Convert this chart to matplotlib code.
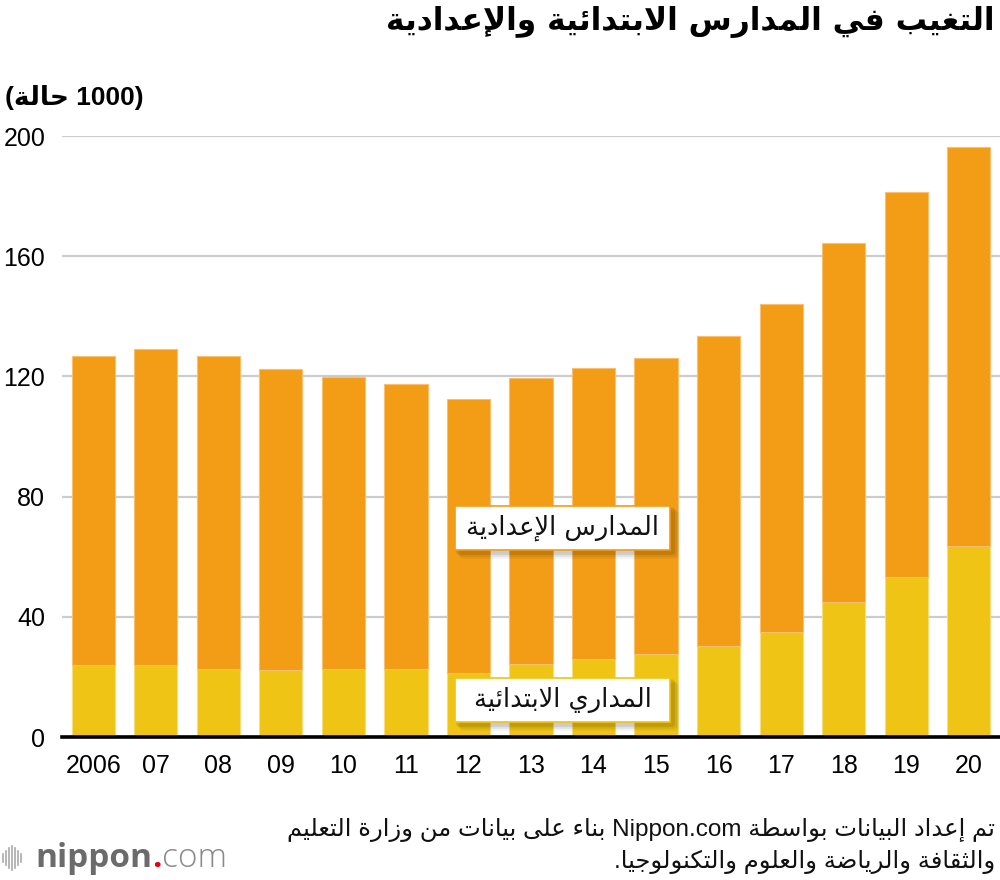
import matplotlib
matplotlib.use("Agg")
import matplotlib.pyplot as plt
from matplotlib.patches import FancyBboxPatch
import numpy as np

# data (1000 cases)
years = ["2006", "07", "08", "09", "10", "11", "12", "13", "14", "15", "16", "17", "18", "19", "20"]
elementary = [23.8, 23.9, 22.7, 22.3, 22.5, 22.6, 21.2, 24.2, 25.9, 27.6, 30.4, 35.0, 44.8, 53.4, 63.4]
junior_high = [103.1, 105.3, 104.2, 100.1, 97.4, 94.8, 91.4, 95.4, 97.0, 98.4, 103.2, 109.0, 119.7, 127.9, 132.8]
yticks = [0, 40, 80, 120, 160, 200]

title = "التغيب في المدارس الابتدائية والإعدادية"
unit_label = "(1000 حالة)"
label_junior = "المدارس الإعدادية"
label_elem = "المداري الابتدائية"
source_1 = "تم إعداد البيانات بواسطة Nippon.com بناء على بيانات من وزارة التعليم"
source_2 = "والثقافة والرياضة والعلوم والتكنولوجيا."

ORANGE = "#F39C15"
YELLOW = "#F0C414"

# --- minimal arabic shaping (presentation forms) + rtl reordering ---
_counts = [1, 2, 2, 2, 2, 4, 2, 4, 2, 4, 4, 4, 4, 4, 2, 2, 2, 2, 4, 4, 4, 4, 4, 4, 4, 4,
           4, 4, 4, 4, 4, 4, 4, 2, 2, 4]
_letters = [chr(c) for c in range(0x0621, 0x063B)] + [chr(c) for c in range(0x0641, 0x064B)]
FORMS = {}
_start = 0xFE80
for ch, n in zip(_letters, _counts):
    FORMS[ch] = tuple(range(_start, _start + n))
    _start += n
LAMALEF = {"\u0622": 0xFEF5, "\u0623": 0xFEF7, "\u0625": 0xFEF9, "\u0627": 0xFEFB}


def _jtype(u):
    kind, c = u
    if kind == "LA":
        return "R"
    if c in FORMS:
        n = len(FORMS[c])
        return "D" if n == 4 else ("R" if n == 2 else "U")
    return None


def shape(text):
    units = []
    i = 0
    while i < len(text):
        c = text[i]
        if c == "\u0644" and i + 1 < len(text) and text[i + 1] in LAMALEF:
            units.append(("LA", text[i + 1]))
            i += 2
        else:
            units.append(("C", c))
            i += 1
    out = []
    for k, u in enumerate(units):
        jt = _jtype(u)
        if jt is None:
            out.append(u[1])
            continue
        prev = _jtype(units[k - 1]) if k > 0 else None
        nxt = _jtype(units[k + 1]) if k + 1 < len(units) else None
        jp = jt in ("D", "R") and prev == "D"
        jn = jt == "D" and nxt in ("D", "R")
        if u[0] == "LA":
            out.append(chr(LAMALEF[u[1]] + (1 if jp else 0)))
            continue
        f = FORMS[u[1]]
        if jp and jn:
            out.append(chr(f[3]))
        elif jp:
            out.append(chr(f[1]))
        elif jn:
            out.append(chr(f[2]))
        else:
            out.append(chr(f[0]))
    return "".join(out)


def rtl(text):
    s = shape(text)
    runs = []
    for i, c in enumerate(s):
        ltr = c.isascii() and c.isalnum()
        if c == "." and 0 < i < len(s) - 1 and s[i - 1].isascii() and s[i - 1].isalnum() \
                and s[i + 1].isascii() and s[i + 1].isalnum():
            ltr = True
        if runs and runs[-1][0] == ltr:
            runs[-1][1] += c
        else:
            runs.append([ltr, c])
    mirror = str.maketrans("()", ")(")
    return "".join(r if ltr else r[::-1].translate(mirror) for ltr, r in reversed(runs))


FONTS = ["Liberation Sans", "DejaVu Sans"]
AR = ["DejaVu Sans"]
plt.rcParams["font.family"] = FONTS

W, H = 1000, 880
fig = plt.figure(figsize=(W / 100, H / 100), dpi=100)
ax = fig.add_axes([62 / W, 1 - 737 / H, 1 - 62 / W, (737 - 136) / H])

x = np.arange(len(years))
ax.bar(x, elementary, width=0.69, color=YELLOW, edgecolor="#f7dd80", linewidth=0.8, zorder=3)
ax.bar(x, junior_high, bottom=elementary, width=0.69, color=ORANGE, edgecolor="#f8c070",
       linewidth=0.8, zorder=3)

ax.set_xlim(-0.5, len(years) - 0.5)
ax.set_ylim(0, 200)
ax.set_yticks(yticks)
ax.set_xticks(x)
ax.set_xticklabels(years)
ax.yaxis.grid(True, color="#cccccc", linewidth=1.6, zorder=0)
ax.set_axisbelow(True)
for sp in ["top", "left", "right"]:
    ax.spines[sp].set_visible(False)
ax.spines["bottom"].set_linewidth(2.6)
ax.spines["bottom"].set_color("black")
ax.spines["bottom"].set_zorder(5)
ax.tick_params(axis="both", length=0, labelsize=18)
ax.tick_params(axis="y", pad=12)
ax.tick_params(axis="x", pad=12)

# titles
fig.text(995 / W, 1 - 22 / H, rtl(title), ha="right", va="center", fontsize=22.5,
         fontweight="bold", family=AR)
fig.text(5 / W, 1 - 98 / H, rtl(unit_label), ha="left", va="center", fontsize=19,
         fontweight="bold", family=FONTS)

# in-chart labels
for txt, yc, ec in [(label_junior, 528, ORANGE), (label_elem, 700, YELLOW)]:
    bx0, bx1 = 455, 670
    bh = 44
    # soft shadow: a few stacked translucent rectangles
    for off, a in [(7, 0.05), (5, 0.07), (3, 0.09)]:
        sh = FancyBboxPatch(((bx0 + off) / W, 1 - (yc + bh / 2 + off) / H), (bx1 - bx0) / W,
                            bh / H, boxstyle="round,pad=0.002,rounding_size=0.004",
                            transform=fig.transFigure, facecolor="black", edgecolor="none",
                            alpha=a, zorder=9)
        fig.add_artist(sh)
    box = FancyBboxPatch((bx0 / W, 1 - (yc + bh / 2) / H), (bx1 - bx0) / W, bh / H,
                         boxstyle="square,pad=0", transform=fig.transFigure,
                         facecolor="white", edgecolor=ec, linewidth=1.2, zorder=10)
    fig.add_artist(box)
    fig.text((bx0 + bx1) / 2 / W, 1 - yc / H, rtl(txt), ha="center", va="center",
             fontsize=18.5, family=AR, zorder=11, color="#111111")

# source
fig.text(995 / W, 1 - 830 / H, rtl(source_1), ha="right", va="center", fontsize=17.5,
         family=FONTS, color="#111111")
fig.text(995 / W, 1 - 862 / H, rtl(source_2), ha="right", va="center", fontsize=17.5,
         family=FONTS, color="#111111")

# logo
bar_h = [8, 14, 20, 24, 20, 14, 8]
for i, h in enumerate(bar_h):
    xx = (3 + i * 3) / W
    fig.add_artist(plt.Line2D([xx, xx], [1 - (858 - h / 2) / H, 1 - (858 + h / 2) / H],
                              transform=fig.transFigure, color="#aaaaaa", linewidth=1.2))
renderer = fig.canvas.get_renderer()
t1 = fig.text(35 / W, 1 - 858 / H, "nippon", ha="left", va="center", fontsize=24,
              fontweight="bold", color="#6b6b6b", family=["Open Sans", "DejaVu Sans"])
bb = t1.get_window_extent(renderer)
t2 = fig.text(bb.x1 / W, 1 - 858 / H, ".", ha="left", va="center", fontsize=24,
              fontweight="bold", color="#e60012", family=["Open Sans", "DejaVu Sans"])
bb2 = t2.get_window_extent(renderer)
fig.text(bb2.x1 / W, 1 - 858 / H, "com", ha="left", va="center", fontsize=24,
         fontweight="light", color="#8a8a8a", family=["Open Sans", "DejaVu Sans"])

fig.savefig("out.png", dpi=100)
